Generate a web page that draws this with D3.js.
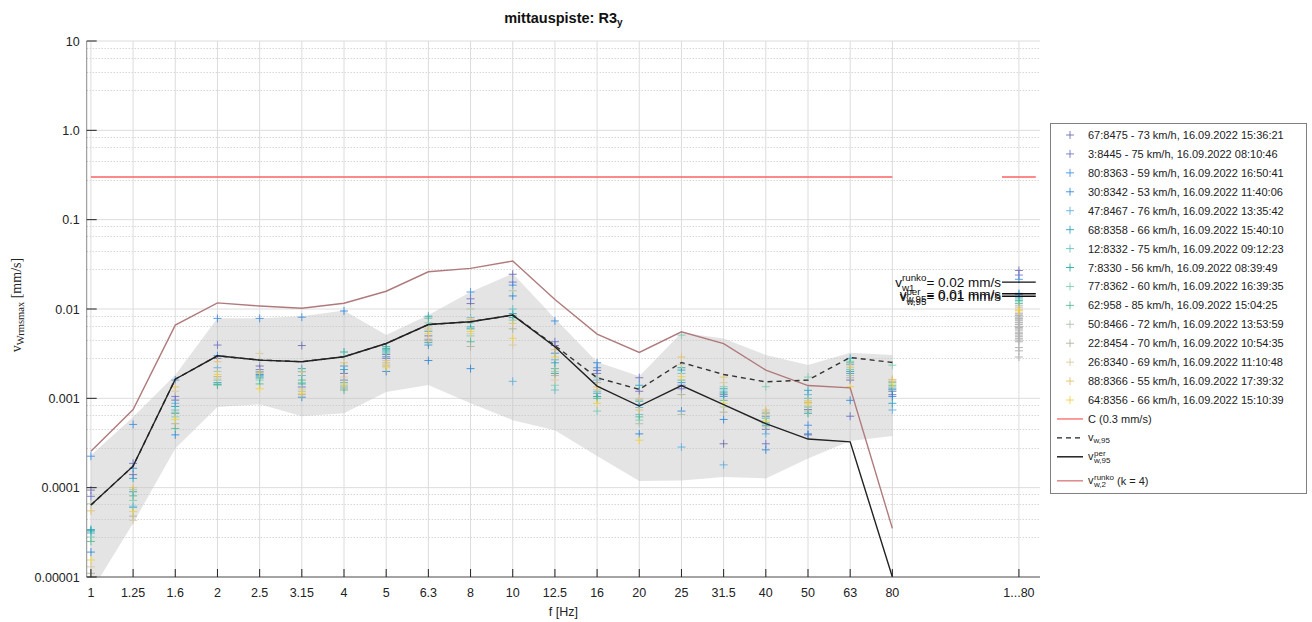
<!DOCTYPE html>
<html><head><meta charset="utf-8">
<script src="https://cdn.jsdelivr.net/npm/d3@7"></script>
<style>
body{margin:0;background:#fff;}
svg{display:block;font-family:"Liberation Sans",Arial,Helvetica,sans-serif;}
</style></head><body>
<svg id="chart" width="1312" height="622"></svg>
<script>
// Third-octave band centre frequencies and the overall column
const bandLabels = ["1","1.25","1.6","2","2.5","3.15","4","5","6.3","8","10","12.5","16","20","25","31.5","40","50","63","80"];
const totalLabel = "1...80";
const yTicks = [1e-5, 1e-4, 1e-3, 1e-2, 1e-1, 1, 10];
const yTickLabels = ["0.00001","0.0001","0.001","0.01","0.1","1.0","10"];
// dotted helper lines inside each decade (multipliers of the decade)
const decadeGrid = [2.8, 4.5, 6.5, 8.4];

// Train passages shown individually
const passLabels = [
  "67:8475 - 73 km/h, 16.09.2022 15:36:21",
  "3:8445 - 75 km/h, 16.09.2022 08:10:46",
  "80:8363 - 59 km/h, 16.09.2022 16:50:41",
  "30:8342 - 53 km/h, 16.09.2022 11:40:06",
  "47:8467 - 76 km/h, 16.09.2022 13:35:42",
  "68:8358 - 66 km/h, 16.09.2022 15:40:10",
  "12:8332 - 75 km/h, 16.09.2022 09:12:23",
  "7:8330 - 56 km/h, 16.09.2022 08:39:49",
  "77:8362 - 60 km/h, 16.09.2022 16:39:35",
  "62:958 - 85 km/h, 16.09.2022 15:04:25",
  "50:8466 - 72 km/h, 16.09.2022 13:53:59",
  "22:8454 - 70 km/h, 16.09.2022 10:54:35",
  "26:8340 - 69 km/h, 16.09.2022 11:10:48",
  "88:8366 - 55 km/h, 16.09.2022 17:39:32",
  "64:8356 - 66 km/h, 16.09.2022 15:10:39"
];
const passColors = ["#6b68b0","#6a72c6","#3f8ee0","#2e86d6","#5aaee0","#2aa2c2","#62c0c8","#22a8a0",
                    "#7ccab0","#52b892","#a9bfa8","#aeb096","#d9c89e","#e3c06a","#f0d040"];

// Band values per passage [mm/s], 1 ... 80 Hz
const passValues = [
  [9.4e-5,1.4e-4,9.55e-4,2.8e-3,2.3e-3,3.9e-3,1.9e-3,3.1e-3,5.0e-3,1.15e-2,2.45e-2,3.9e-3,2.05e-3,1.2e-3,1.4e-3,3.1e-4,4.5e-4,3.9e-4,1.6e-3,1.2e-3],
  [8.0e-5,1.87e-4,1.05e-3,3.95e-3,2.1e-3,1.34e-3,1.6e-3,2.8e-3,4.5e-3,1.3e-2,2.0e-2,4.3e-3,1.9e-3,1.7e-3,1.28e-3,1.1e-3,3.1e-4,7.5e-4,6.3e-4,1.1e-3],
  [2.25e-4,5.1e-4,1.6e-3,7.85e-3,7.85e-3,8.1e-3,2.3e-3,2.92e-3,3.95e-3,1.55e-2,1.85e-2,7.35e-3,2.2e-3,8.5e-4,1.5e-3,1.05e-3,6.3e-4,5.0e-4,1.9e-3,1.25e-3],
  [1.9e-5,1.65e-4,3.9e-4,3.0e-3,1.85e-3,1.03e-3,9.5e-3,2.0e-3,2.65e-3,2.15e-3,1.4e-2,3.2e-3,2.5e-3,4.0e-4,7.2e-4,5.8e-4,2.65e-4,4.0e-4,9.5e-4,1.05e-3],
  [3.1e-5,6.0e-5,8.8e-4,2.2e-3,1.8e-3,1.8e-3,1.5e-3,3.3e-3,5.6e-3,8.0e-3,1.55e-3,2.7e-3,1.6e-3,7.9e-4,2.85e-4,1.8e-4,4.0e-4,1.1e-3,2.4e-3,7.4e-4],
  [3.4e-5,1.27e-4,8.1e-4,1.5e-3,1.97e-3,2.15e-3,2.1e-3,3.6e-3,8.3e-3,6.3e-3,8.9e-3,2.5e-3,1.14e-3,1.4e-3,2.07e-3,1.28e-3,5.0e-4,1.23e-3,2.8e-3,8.8e-4],
  [3.2e-5,6.2e-5,7.4e-4,1.6e-3,1.75e-3,2.0e-3,1.34e-3,3.4e-3,6.5e-3,7.0e-3,1.0e-2,1.24e-3,1.2e-3,6.6e-4,1.9e-3,1.2e-3,6.8e-4,1.0e-3,2.1e-3,1.5e-3],
  [3.3e-5,9.0e-5,6.8e-4,1.42e-3,1.69e-3,1.45e-3,3.3e-3,3.78e-3,4.2e-3,6.0e-3,8.0e-3,1.9e-3,1.05e-3,9.3e-4,2.2e-3,1.15e-3,5.3e-4,6.8e-4,2.0e-3,1.3e-3],
  [2.8e-5,7.2e-5,6.2e-4,1.45e-3,1.6e-3,1.5e-3,2.95e-3,3.2e-3,7.0e-3,5.0e-3,7.5e-3,1.4e-3,7.2e-4,5.7e-4,5.1e-3,1.35e-3,1.35e-3,1.73e-3,2.6e-3,2.35e-3],
  [2.5e-5,8.1e-5,4.6e-4,1.42e-3,1.45e-3,1.6e-3,1.24e-3,3.5e-3,7.9e-3,4.3e-3,8.5e-3,2.15e-3,1.0e-3,6.2e-4,1.6e-3,9.5e-4,6.0e-4,8.0e-4,2.5e-3,1.4e-3],
  [6.6e-5,9.5e-5,7.0e-4,2.0e-3,2.68e-3,1.2e-3,1.4e-3,2.5e-3,5.8e-3,1.0e-2,1.6e-2,2.0e-3,1.7e-3,5.2e-4,6.6e-4,8.0e-4,4.8e-4,7.2e-4,1.8e-3,1.35e-3],
  [1.1e-5,4.8e-5,5.2e-4,1.75e-3,2.0e-3,1.1e-3,1.3e-3,2.3e-3,4.4e-3,3.8e-3,6.0e-3,1.8e-3,1.5e-3,9.8e-4,1.1e-3,7.0e-4,7.0e-4,9.0e-4,1.7e-3,1.55e-3],
  [1.3e-5,4.3e-5,1.2e-3,1.68e-3,3.18e-3,1.27e-3,1.73e-3,2.4e-3,4.7e-3,5.3e-3,3.95e-3,1.6e-3,1.25e-3,1.0e-3,2.4e-3,1.5e-3,6.5e-4,8.4e-4,2.3e-3,1.6e-3],
  [5.5e-5,1.0e-4,1.34e-3,2.57e-3,1.9e-3,1.97e-3,2.5e-3,2.65e-3,6.1e-3,7.6e-3,6.9e-3,3.5e-3,1.34e-3,7.4e-4,2.9e-3,1.73e-3,7.4e-4,9.4e-4,2.2e-3,1.63e-3],
  [1.55e-5,5.4e-5,5.8e-4,1.85e-3,1.28e-3,1.14e-3,1.45e-3,2.2e-3,5.3e-3,5.6e-3,4.7e-3,2.9e-3,8.8e-4,3.4e-4,1.75e-3,8.8e-4,5.6e-4,8.8e-4,1.35e-3,1.45e-3]
];
// Overall (1...80 Hz) values per passage [mm/s]
const passTotals = [0.027,0.024,0.0215,0.0146,0.0150,0.0136,0.0130,0.0125,0.0120,0.0115,0.0110,0.0105,0.0100,0.0097,0.0095];
const otherTotals = [0.0090,0.0088,0.0085,0.0084,0.0081,0.0078,0.0077,0.0074,0.0071,0.0070,0.0067,0.0064,
                     0.0062,0.0060,0.0058,0.0055,0.0053,0.0051,0.0049,0.0047,0.0045,0.0043,0.0037,0.0034,0.0029];

// Limit and statistics [mm/s]
const limitC = 0.3;
const vw95 = [6.4e-5,1.74e-4,1.64e-3,2.99e-3,2.68e-3,2.57e-3,2.92e-3,4.11e-3,6.7e-3,7.2e-3,8.55e-3,3.9e-3,1.7e-3,1.26e-3,2.52e-3,1.85e-3,1.53e-3,1.6e-3,2.87e-3,2.52e-3];
const vw95per = [6.4e-5,1.74e-4,1.64e-3,2.99e-3,2.68e-3,2.57e-3,2.92e-3,4.11e-3,6.7e-3,7.2e-3,8.55e-3,3.78e-3,1.37e-3,8.2e-4,1.39e-3,8.5e-4,5.2e-4,3.5e-4,3.26e-4,1e-5];
const vwRunko = [2.56e-4,7.5e-4,6.6e-3,1.17e-2,1.08e-2,1.02e-2,1.16e-2,1.58e-2,2.61e-2,2.85e-2,3.44e-2,1.28e-2,5.24e-3,3.27e-3,5.56e-3,4.1e-3,2.07e-3,1.39e-3,1.31e-3,3.5e-5];
const envMax = [2.3e-4,6.2e-4,1.82e-3,7.9e-3,7.9e-3,8.3e-3,9.6e-3,5.1e-3,8.55e-3,1.55e-2,2.5e-2,7.85e-3,2.55e-3,1.77e-3,5.42e-3,4.69e-3,3.05e-3,2.36e-3,3.23e-3,3.05e-3];
const envMin = [6.8e-6,4.0e-5,2.75e-4,8.0e-4,8.6e-4,6.3e-4,6.8e-4,1.18e-3,1.41e-3,8.8e-4,5.7e-4,4.4e-4,2.26e-4,1.19e-4,1.2e-4,1.32e-4,1.27e-4,2.12e-4,3.34e-4,3.78e-4];
const runkoTotal = 0.0200, vw95Total = 0.0148, vw95perTotal = 0.0139;

const svg = d3.select("#chart");
const L = 86.7, R = 1040, T = 41, B = 577;
const x = d3.scaleLinear().domain([0.9, 23.5]).range([L, R]);
const y = d3.scaleLog().domain([1e-5, 10]).range([B, T]);
const bx = i => x(i + 1);          // band index -> x
const xTotal = x(23);

svg.append("defs").append("clipPath").attr("id", "plotClip")
  .append("rect").attr("x", L).attr("y", T).attr("width", R - L).attr("height", B - T);

// grid
const grid = svg.append("g");
const minor = [];
for (let e = -5; e < 1; e++) decadeGrid.forEach(m => minor.push(m * Math.pow(10, e)));
grid.selectAll(".mn").data(minor).join("line")
  .attr("x1", L).attr("x2", R).attr("y1", d => Math.round(y(d)) + 0.5).attr("y2", d => Math.round(y(d)) + 0.5)
  .attr("stroke", "#c4c4c4").attr("stroke-width", 1).attr("stroke-dasharray", "1,2");
grid.selectAll(".mj").data(yTicks).join("line")
  .attr("x1", L).attr("x2", R).attr("y1", d => y(d)).attr("y2", d => y(d))
  .attr("stroke", "#dcdcdc").attr("stroke-width", 1);
const xPosAll = bandLabels.map((_, i) => bx(i)).concat([xTotal]);
grid.selectAll(".vx").data(xPosAll).join("line")
  .attr("x1", d => d).attr("x2", d => d).attr("y1", T).attr("y2", B)
  .attr("stroke", "#dcdcdc").attr("stroke-width", 1);

const plot = svg.append("g").attr("clip-path", "url(#plotClip)");

// envelope band
const env = bandLabels.map((_, i) => ({i, lo: envMin[i], hi: envMax[i]}));
plot.append("path").datum(env)
  .attr("d", d3.area().x(d => bx(d.i)).y0(d => y(d.lo)).y1(d => y(d.hi)))
  .attr("fill", "#c4c4c4").attr("fill-opacity", 0.45);

// limit C
plot.append("line").attr("x1", bx(0)).attr("x2", bx(19)).attr("y1", y(limitC)).attr("y2", y(limitC))
  .attr("stroke", "#ff6060").attr("stroke-width", 1.4);
plot.append("line").attr("x1", x(22.6)).attr("x2", x(23.4)).attr("y1", y(limitC)).attr("y2", y(limitC))
  .attr("stroke", "#ff6060").attr("stroke-width", 1.4);

// '+' marker
const plusType = {draw(ctx, size) { const r = Math.sqrt(size) / 2; ctx.moveTo(-r, 0); ctx.lineTo(r, 0); ctx.moveTo(0, -r); ctx.lineTo(0, r); }};
const plus = d3.symbol().type(plusType).size(64);

// other passages, overall column
plot.selectAll(".oth").data(otherTotals).join("path")
  .attr("d", plus).attr("transform", d => `translate(${xTotal},${y(d)})`)
  .attr("fill", "none").attr("stroke", "#b4b4b4").attr("stroke-width", 1);

// individual passages
passValues.forEach((vals, s) => {
  const g = plot.append("g").attr("stroke", passColors[s]).attr("stroke-opacity", 0.85)
    .attr("fill", "none").attr("stroke-width", 1);
  g.selectAll("path").data(vals.map((v, i) => ({i, v}))).join("path")
    .attr("d", plus).attr("transform", d => `translate(${bx(d.i)},${y(d.v)})`);
  g.append("path").attr("d", plus).attr("transform", `translate(${xTotal},${y(passTotals[s])})`);
});

// statistic lines
const lineGen = d3.line().x((d, i) => bx(i)).y(d => y(d));
plot.append("path").datum(vwRunko).attr("d", lineGen).attr("fill", "none").attr("stroke", "#b07a7c").attr("stroke-width", 1.4);
plot.append("path").datum(vw95).attr("d", lineGen).attr("fill", "none").attr("stroke", "#333").attr("stroke-width", 1.4).attr("stroke-dasharray", "5,4");
plot.append("path").datum(vw95per).attr("d", lineGen).attr("fill", "none").attr("stroke", "#222").attr("stroke-width", 1.4);

// overall-level markers with labels
function symLabel(g, xr, yc, sub, sup, rest, fs) {
  const t = g.append("text").attr("y", yc + fs * 0.35).attr("font-size", fs).attr("fill", "#111");
  const v = t.append("tspan").text("v");
  const t2 = g.append("text").attr("font-size", fs * 0.72).attr("fill", "#111").attr("y", yc + fs * 0.35 + fs * 0.28).text(sub);
  const t3 = g.append("text").attr("font-size", fs * 0.72).attr("fill", "#111").attr("y", yc + fs * 0.35 - fs * 0.42).text(sup);
  const t4 = g.append("text").attr("font-size", fs).attr("fill", "#111").attr("y", yc + fs * 0.35).text(rest);
  const wv = v.node().getComputedTextLength();
  const ws = Math.max(t2.node().getComputedTextLength(), t3.node().getComputedTextLength());
  const wr = t4.node().getComputedTextLength();
  const x0 = xr - (wv + ws + wr);
  t.attr("x", x0); t2.attr("x", x0 + wv); t3.attr("x", x0 + wv); t4.attr("x", x0 + wv + ws);
}
const ann = svg.append("g");
[[runkoTotal, "w1", "runko"], [vw95Total, "w,95", ""], [vw95perTotal, "w,95", "per"]].forEach(([val, sub, sup]) => {
  ann.append("line").attr("x1", x(22.6)).attr("x2", x(23.4)).attr("y1", y(val)).attr("y2", y(val))
    .attr("stroke", "#111").attr("stroke-width", 1.4);
  symLabel(ann, x(22.6) - 1, y(val), sub, sup, " = " + d3.format(".2f")(val) + " mm/s", 13.5);
});

// axes
svg.append("line").attr("x1", L).attr("x2", L).attr("y1", T).attr("y2", B).attr("stroke", "#8a8a8a");
svg.append("line").attr("x1", L).attr("x2", R).attr("y1", B).attr("y2", B).attr("stroke", "#5a5a5a");
svg.selectAll(".yt").data(yTicks).join("line")
  .attr("x1", L).attr("x2", L + 10).attr("y1", d => y(d)).attr("y2", d => y(d)).attr("stroke", "#222");
svg.selectAll(".ytl").data(yTicks).join("text")
  .attr("x", L - 7).attr("y", d => y(d) + 4.5).attr("text-anchor", "end")
  .attr("font-size", 12.5).attr("fill", "#222").text((d, i) => yTickLabels[i]);
const xLabs = bandLabels.concat([totalLabel]);
svg.selectAll(".xt").data(xPosAll).join("line")
  .attr("x1", d => d).attr("x2", d => d).attr("y1", B).attr("y2", B - 8).attr("stroke", "#222");
svg.selectAll(".xtl").data(xPosAll).join("text")
  .attr("x", d => d).attr("y", B + 20).attr("text-anchor", "middle")
  .attr("font-size", 12.5).attr("fill", "#222").text((d, i) => xLabs[i]);

svg.append("text").attr("x", (L + R) / 2).attr("y", 616).attr("text-anchor", "middle")
  .attr("font-size", 12.5).attr("fill", "#222").text("f [Hz]");

const yl = svg.append("text").attr("transform", "translate(21,305) rotate(-90)")
  .attr("text-anchor", "middle").attr("font-family", "'Liberation Serif','Times New Roman',serif")
  .attr("font-size", 14).attr("fill", "#222");
yl.append("tspan").text("v");
yl.append("tspan").attr("font-size", 10.5).attr("dy", 3).text("Wrmsmax");
yl.append("tspan").attr("dy", -3).text(" [mm/s]");

const title = svg.append("text").attr("x", (L + R) / 2).attr("y", 23).attr("text-anchor", "middle")
  .attr("font-size", 14.5).attr("font-weight", "bold").attr("fill", "#111");
title.append("tspan").text("mittauspiste: R3");
title.append("tspan").attr("font-size", 10).attr("dy", 3).text("y");

// legend
const lg = svg.append("g");
lg.append("rect").attr("x", 1050.5).attr("y", 123.5).attr("width", 256).attr("height", 370)
  .attr("fill", "#fff").attr("stroke", "#808080");
const rowY = i => 135 + i * 18.93;
passLabels.forEach((lab, i) => {
  lg.append("path").attr("d", plus).attr("transform", `translate(1070,${rowY(i)})`)
    .attr("fill", "none").attr("stroke", passColors[i]).attr("stroke-opacity", 0.85);
  lg.append("text").attr("x", 1088).attr("y", rowY(i) + 4).attr("font-size", 11).attr("fill", "#222").text(lab);
});
function legLine(yc, color, dash) {
  const l = lg.append("line").attr("x1", 1057).attr("x2", 1083).attr("y1", yc).attr("y2", yc)
    .attr("stroke", color).attr("stroke-width", 1.4);
  if (dash) l.attr("stroke-dasharray", dash);
}
legLine(rowY(15), "#ff7070");
lg.append("text").attr("x", 1088).attr("y", rowY(15) + 4).attr("font-size", 11).attr("fill", "#222").text("C (0.3 mm/s)");
legLine(rowY(16), "#222", "5,4");
const t16 = lg.append("text").attr("x", 1088).attr("y", rowY(16) + 3).attr("font-size", 11).attr("fill", "#222");
t16.append("tspan").text("v");
t16.append("tspan").attr("font-size", 8).attr("dy", 2).text("w,95");
legLine(rowY(17), "#111");
lg.append("text").attr("x", 1088).attr("y", rowY(17) + 3).attr("font-size", 11).attr("fill", "#222").text("v");
lg.append("text").attr("x", 1094).attr("y", rowY(17) + 6).attr("font-size", 8).attr("fill", "#222").text("w,95");
lg.append("text").attr("x", 1094).attr("y", rowY(17) - 1).attr("font-size", 8).attr("fill", "#222").text("per");
const yr = rowY(17) + 24;
legLine(yr, "#d98080");
lg.append("text").attr("x", 1088).attr("y", yr + 3).attr("font-size", 11).attr("fill", "#222").text("v");
lg.append("text").attr("x", 1094).attr("y", yr + 6).attr("font-size", 8).attr("fill", "#222").text("w,2");
lg.append("text").attr("x", 1094).attr("y", yr - 1).attr("font-size", 8).attr("fill", "#222").text("runko");
lg.append("text").attr("x", 1117).attr("y", yr + 4).attr("font-size", 11).attr("fill", "#222").text("(k = 4)");
</script></body></html>
